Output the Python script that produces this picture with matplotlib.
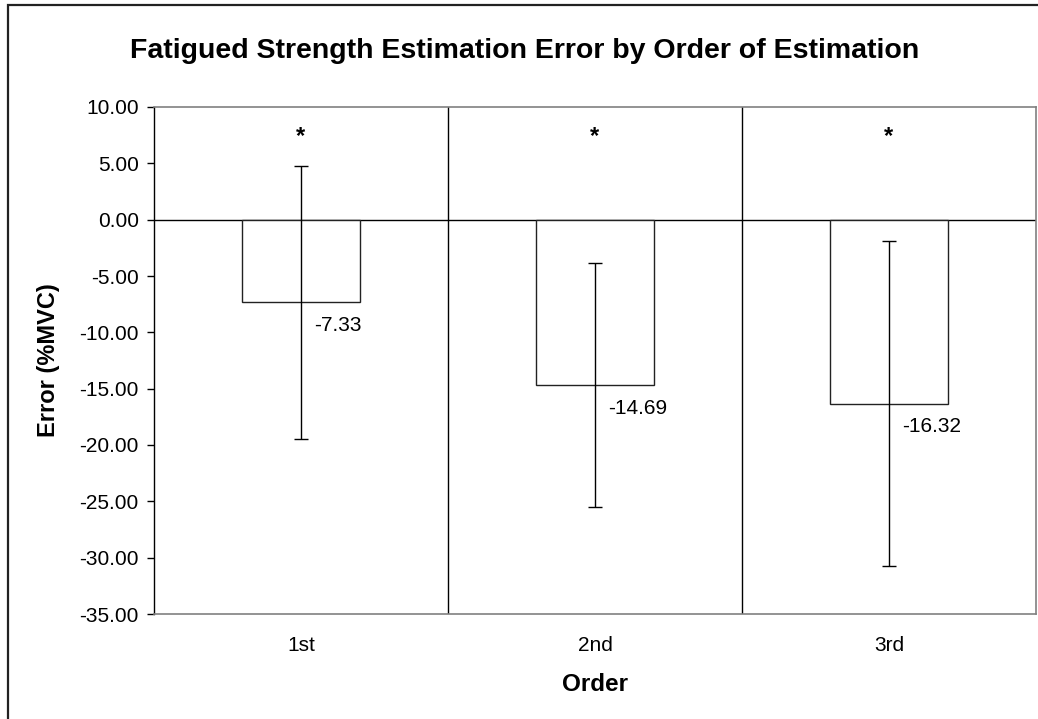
import matplotlib
matplotlib.use("Agg")
import matplotlib.pyplot as plt
from matplotlib.patches import Rectangle

plt.rcParams["font.family"] = ["Liberation Sans", "DejaVu Sans"]

# data
orders = ["1st", "2nd", "3rd"]
mean_error = [-7.33, -14.69, -16.32]
sd_error = [12.1, 10.8, 14.4]
value_labels = ["-7.33", "-14.69", "-16.32"]
signif = ["*", "*", "*"]
y_ticks = [10, 5, 0, -5, -10, -15, -20, -25, -30, -35]

W, H = 1038, 719
fig = plt.figure(figsize=(W / 100, H / 100), dpi=100)

# outer chart border (runs off the right/bottom edges in the reference)
fig.patches.append(Rectangle((8 / W, -0.1), 1.2, 1.1 - 5 / H, transform=fig.transFigure,
                             fill=False, edgecolor="#222222", lw=1.6, zorder=0))

ax = fig.add_axes([154 / W, (H - 614) / H, 882 / W, 507 / H])

x = list(range(len(orders)))
ax.bar(x, mean_error, width=0.4, color="white", edgecolor="#222222", lw=1.0, zorder=2)
ax.errorbar(x, mean_error, yerr=sd_error, fmt="none", ecolor="black", elinewidth=1.0,
            capsize=5, capthick=1.0, zorder=3)

for xi, m, lab in zip(x, mean_error, value_labels):
    ax.annotate(lab, (xi, m), xytext=(13, -23), textcoords="offset pixels",
                ha="left", va="center", fontsize=15, zorder=4)

for xi, s in zip(x, signif):
    ax.text(xi, 7.4, s, ha="center", va="center", fontsize=17, fontweight="bold", zorder=4)

ax.set_xlim(-0.5, len(orders) - 0.5)
ax.set_ylim(-35, 10)
ax.set_yticks(y_ticks)
ax.set_yticklabels([f"{t:.2f}" for t in y_ticks])
ax.set_xticks(x)
ax.set_xticklabels(orders)

# category boundaries and zero line
for b in [0.5, 1.5]:
    ax.axvline(b, color="black", lw=1.0, zorder=1)
ax.axhline(0, color="black", lw=1.0, zorder=1)

for side in ["top", "right", "bottom"]:
    ax.spines[side].set_color("#808080")
    ax.spines[side].set_linewidth(1.2)
ax.spines["left"].set_color("black")
ax.spines["left"].set_linewidth(1.0)

ax.tick_params(axis="y", direction="out", length=5, width=1.0, pad=6, labelsize=15)
ax.tick_params(axis="x", length=0, pad=16, labelsize=15)

ax.set_ylabel("Error (%MVC)", fontsize=17, fontweight="bold")
ax.yaxis.set_label_coords((60 - 154) / 882, 0.5)
ax.set_xlabel("Order", fontsize=17.5, fontweight="bold")
ax.xaxis.set_label_coords(0.5, -(673 - 614) / 507)

fig.text(525 / W, 1 - 58 / H, "Fatigued Strength Estimation Error by Order of Estimation",
         ha="center", va="baseline", fontsize=20.5, fontweight="bold")

fig.savefig("out.png", dpi=100)
